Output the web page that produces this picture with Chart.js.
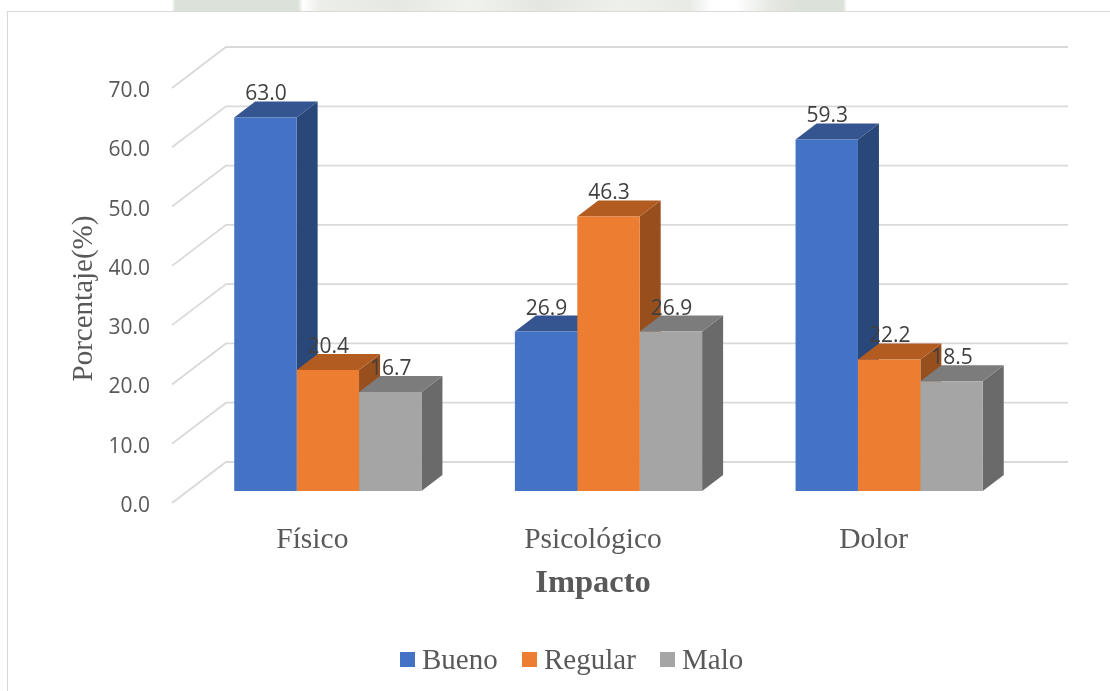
<!DOCTYPE html>
<html lang="es">
<head>
  <meta charset="UTF-8" />
  <title>Impacto</title>
  <script src="https://cdn.jsdelivr.net/npm/chart.js"></script>
  <style>
    html, body { margin: 0; background: #fff; }
    #wrap { position: relative; width: 1110px; height: 691px; overflow: hidden; }
    #sello {
      position: absolute; left: 0; top: 0; width: 1110px; height: 11px;
      background: linear-gradient(90deg,
        #fff 172px, #dce1d9 175px, #dce1d9 298px, #fff 303px, #eceee9 320px,
        #e6e9e3 400px, #f0f2ee 470px, #e4e7e1 540px, #eef0ec 620px, #e8ebe5 690px,
        #fff 712px, #fff 735px, #e6e9e3 770px, #dce1d9 800px, #dce1d9 843px, #fff 847px);
    }
    #frame {
      position: absolute; left: 7px; top: 11px; width: 1200px; height: 800px;
      border: 1.5px solid #d9d9d9;
    }
    canvas { position: absolute; left: 0; top: 0; }
  </style>
</head>
<body>
  <div id="wrap">
    <div id="sello"></div>
    <div id="frame"></div>
    <canvas id="grafico" width="1110" height="691"></canvas>
  </div>
  <script>
    const categorias = ["Físico", "Psicológico", "Dolor"];
    const bueno = [63.0, 26.9, 59.3];
    const regular = [20.4, 46.3, 22.2];
    const malo = [16.7, 26.9, 18.5];
    const yTicks = [0, 10, 20, 30, 40, 50, 60, 70];

    const depthX = 21, depthY = 16;  // fondo de cada barra
    const shiftX = 15.5, shiftY = 15;  // plano de las barras respecto a los ejes
    const serif = "'Liberation Serif', serif";
    const sans = "'Open Sans', sans-serif";

    const series = [
      { label: "Bueno", data: bueno, front: "#4472c4", top: "#34558f", side: "#2a4779" },
      { label: "Regular", data: regular, front: "#ed7d31", top: "#b25c22", side: "#974f1e" },
      { label: "Malo", data: malo, front: "#a5a5a5", top: "#7c7c7c", side: "#6a6a6a" }
    ];

    const falso3d = {
      id: "falso3d",
      beforeDatasetsDraw(chart) {
        const { ctx, scales: { y, x } } = chart;
        ctx.save();
        // rejilla: diagonal en el piso y linea en el plano del fondo
        ctx.strokeStyle = "#d9d9d9";
        ctx.lineWidth = 1.8;
        yTicks.forEach(v => {
          const py = y.getPixelForValue(v) - 3;
          ctx.beginPath();
          ctx.moveTo(x.left, py);
          ctx.lineTo(x.left + 54, py - 41);
          ctx.lineTo(x.right + 54, py - 41);
          ctx.stroke();
        });
        // caras superior y lateral, antes de los frentes
        ctx.translate(shiftX, -shiftY);
        series.forEach((s, i) => {
          chart.getDatasetMeta(i).data.forEach(bar => {
            const l = bar.x - bar.width / 2, r = bar.x + bar.width / 2;
            const t = bar.y, b = bar.base;
            ctx.fillStyle = s.side;
            ctx.beginPath();
            ctx.moveTo(r, t);
            ctx.lineTo(r + depthX, t - depthY);
            ctx.lineTo(r + depthX, b - depthY);
            ctx.lineTo(r, b);
            ctx.fill();
            ctx.fillStyle = s.top;
            ctx.beginPath();
            ctx.moveTo(l, t);
            ctx.lineTo(l + depthX, t - depthY);
            ctx.lineTo(r + depthX, t - depthY);
            ctx.lineTo(r, t);
            ctx.fill();
          });
        });
        ctx.restore();
      },
      beforeDatasetDraw(chart) {
        chart.ctx.save();
        chart.ctx.translate(shiftX, -shiftY);
      },
      afterDatasetDraw(chart) {
        chart.ctx.restore();
      },
      afterDraw(chart) {
        const ctx = chart.ctx;
        ctx.save();
        // etiquetas de datos
        ctx.font = "21px " + sans;
        ctx.fillStyle = "#404040";
        ctx.textAlign = "center";
        ctx.textBaseline = "middle";
        series.forEach((s, i) => {
          chart.getDatasetMeta(i).data.forEach((bar, j) => {
            ctx.fillText(s.data[j].toFixed(1), bar.x + shiftX + 0.5, bar.y - shiftY - 23);
          });
        });
        // leyenda
        const legendX = [400, 522, 660];
        ctx.font = "29px " + serif;
        ctx.textAlign = "left";
        series.forEach((s, i) => {
          ctx.fillStyle = s.front;
          ctx.fillRect(legendX[i], 652, 15, 15);
          ctx.fillStyle = "#595959";
          ctx.fillText(s.label, legendX[i] + 22, 661);
        });
        ctx.restore();
      }
    };

    new Chart(document.getElementById("grafico"), {
      type: "bar",
      data: {
        labels: categorias,
        datasets: series.map(s => ({
          label: s.label,
          data: s.data,
          backgroundColor: s.front,
          barPercentage: 1,
          categoryPercentage: 0.667
        }))
      },
      options: {
        responsive: false,
        animation: false,
        devicePixelRatio: 1,
        layout: { padding: { left: 67, top: 91, right: 96, bottom: 85 } },
        plugins: { legend: { display: false }, tooltip: { enabled: false } },
        scales: {
          x: {
            grid: { display: false, drawTicks: false },
            border: { display: false },
            ticks: { color: "#595959", font: { family: serif, size: 29.5 }, padding: 17 },
            title: {
              display: true, text: "Impacto", color: "#595959",
              font: { family: serif, size: 32.5, weight: "bold" },
              padding: { top: 0, bottom: 3 }
            },
            afterFit(scale) { scale.height = 100; }
          },
          y: {
            min: 0,
            max: 70,
            afterBuildTicks(scale) { scale.ticks = yTicks.map(v => ({ value: v })); },
            grid: { display: false, drawTicks: false },
            border: { display: false },
            ticks: {
              color: "#595959", font: { family: sans, size: 21 }, padding: 22,
              callback: v => v.toFixed(1)
            },
            title: {
              display: true, text: "Porcentaje(%)", color: "#595959",
              font: { family: serif, size: 29 },
              padding: 0
            },
            afterFit(scale) { scale.width = 105; }
          }
        }
      },
      plugins: [falso3d]
    });
  </script>
</body>
</html>
